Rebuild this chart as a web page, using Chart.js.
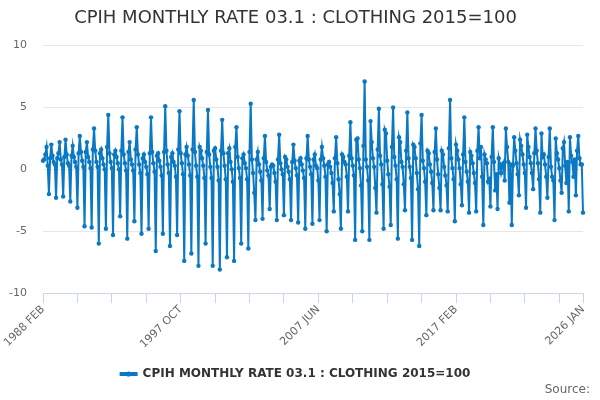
<!DOCTYPE html>
<html>
<head>
<meta charset="utf-8">
<script src="https://cdn.jsdelivr.net/npm/chart.js@4"></script>
<style>
  html, body { margin: 0; padding: 0; background: #fff; }
  #wrap { width: 600px; height: 400px; }
</style>
</head>
<body>
<div id="wrap"><canvas id="rateChart"></canvas></div>
<script>
const monthNames = ['JAN','FEB','MAR','APR','MAY','JUN','JUL','AUG','SEP','OCT','NOV','DEC'];
const firstYear = 1988;
const firstMonth = 1; // FEB

// monthly % change, Feb 1988 .. Jan 2026
const monthlyRate = [
  0.7, 0.8, 1.2, 1.8, 0.3, -2.0, 0.9, 2.0, 1.1, 0.6, 0.4,
  -2.3, 0.9, 1.3, 2.2, 0.8, 0.4, -2.2, 1.0, 2.4, 1.2, 0.5, 0.3,
  -2.6, 1.1, 1.9, 1.0, 0.6, 0.2, -3.1, 1.3, 2.7, 1.4, 0.7, 0.2,
  -4.6, 1.4, 2.2, 1.0, 0.6, 0.1, -4.7, 1.6, 3.3, 1.5, 0.6, 0.2,
  -6.0, 1.3, 1.6, 0.9, 0.4, 0.0, -4.8, 1.8, 4.4, 1.3, 0.6, 0.1,
  -5.3, 1.2, 1.5, 1.0, 0.5, 0.0, -3.8, 1.5, 4.2, 1.2, 0.5, -0.1,
  -5.6, 1.4, 2.2, 0.8, 0.4, -0.1, -4.2, 1.6, 3.4, 1.2, 0.4, -0.3,
  -5.2, 0.9, 1.2, 0.6, 0.2, -0.4, -4.8, 1.3, 4.2, 1.4, 0.5, -0.2,
  -6.6, 1.1, 1.3, 0.7, 0.2, -0.5, -5.2, 1.4, 5.1, 1.5, 0.4, -0.3,
  -6.2, 1.0, 1.3, 0.6, 0.3, -0.6, -5.3, 1.6, 4.7, 1.3, 0.5, -0.4,
  -7.4, 1.2, 1.8, 1.1, 0.4, -0.5, -6.8, 1.6, 5.6, 1.4, 0.3, -0.6,
  -7.8, 1.8, 1.5, 0.9, 0.3, -0.7, -6.0, 1.4, 4.8, 1.2, 0.2, -0.7,
  -7.8, 1.5, 1.7, 0.8, 0.2, -0.9, -8.1, 1.5, 4.0, 1.3, 0.3, -0.8,
  -7.1, 1.3, 1.7, 0.6, 0.0, -1.0, -7.4, 1.8, 3.4, 1.0, 0.1, -0.7,
  -6.0, 0.9, 1.2, 0.5, 0.1, -0.8, -6.4, 1.4, 5.3, 0.8, -0.3, -1.9,
  -4.1, 0.8, 1.4, 0.4, -0.2, -0.9, -4.0, 0.9, 2.7, 0.6, -0.1, -0.5,
  -3.2, 0.2, 0.4, 0.3, -0.3, -1.0, -4.1, 0.8, 2.8, 0.5, 0.0, -0.4,
  -3.7, 1.0, 0.8, 0.2, -0.2, -0.8, -4.1, 0.6, 2.0, 0.7, 0.1, -0.5,
  -4.3, 0.7, 0.9, 0.4, -0.1, -0.7, -4.8, 0.9, 2.7, 0.8, 0.2, -0.4,
  -4.4, 0.8, 1.2, 0.3, 0.1, -0.9, -4.1, 0.8, 1.8, 0.9, 0.3, -0.6,
  -5.0, 0.4, 0.6, 0.2, -0.3, -1.1, -3.4, 0.9, 2.6, 0.5, -0.8, -2.0,
  -4.8, 1.2, 1.0, 0.6, 0.4, -0.6, -3.4, 1.1, 3.8, 0.9, 0.3, -0.5,
  -5.7, 2.4, 2.5, 0.8, 0.1, -1.3, -5.0, 1.9, 7.1, 0.8, 0.2, -0.9,
  -5.7, 3.9, 2.2, 0.9, 0.2, -1.5, -3.5, 1.6, 4.9, 1.1, 0.4, -1.2,
  -4.8, 3.2, 2.9, 0.7, -0.4, -1.4, -4.5, 1.8, 5.0, 1.0, 0.3, -0.8,
  -5.6, 2.6, 2.2, 0.6, 0.2, -1.2, -3.3, 1.5, 4.6, 0.9, 0.2, -0.7,
  -5.7, 2.0, 1.8, 0.9, -0.3, -1.6, -6.2, 2.1, 4.4, 0.7, 0.1, -1.0,
  -3.7, 1.5, 1.3, 0.4, -0.2, -1.1, -3.3, 1.4, 3.3, 0.8, -0.4, -1.5,
  -3.3, 1.5, 1.2, 0.2, -0.5, -1.3, -3.4, 1.7, 5.6, 0.9, 0.1, -0.8,
  -4.2, 2.0, 1.5, 0.8, 0.1, -1.2, -2.9, 1.2, 4.2, 0.6, -0.2, -1.0,
  -3.5, 1.4, 1.1, 0.5, -0.3, -1.1, -3.4, 1.5, 3.4, 0.9, 1.8, -0.6,
  -4.5, 1.2, 0.8, 0.5, -1.0, -0.8, -3.0, 1.0, 3.4, 0.6, -1.7, -0.4,
  -3.2, 0.9, 0.4, -0.3, 0.2, 0.5, -0.9, 3.3, 1.8, 0.6, -2.7, 0.4,
  -4.5, 0.3, 2.6, 1.5, 0.5, -0.4, -2.1, 2.4, 1.9, 1.2, 0.4, -0.3,
  -3.1, 2.8, 1.8, 1.0, 0.5, -0.3, -1.6, 1.3, 3.3, 1.5, 0.5, -0.8,
  -3.5, 2.9, 1.0, 1.2, 0.4, -0.6, -2.3, 1.0, 3.3, 0.2, -0.6, -0.9,
  -4.1, 2.5, 1.3, 0.8, 0.1, -0.9, -1.9, 1.7, 2.2, 0.3, -1.1, 0.6,
  -3.4, 2.6, 1.1, 0.6, -0.6, 0.8, -2.1, 1.5, 2.7, 0.9, 0.4, 0.4,
  -3.5
];

const yTicks = [-10, -5, 0, 5, 10];
const labelEvery = 116;   // months between axis labels
const tickEvery = 29;     // months between tick marks

const titleText = 'CPIH MONTHLY RATE 03.1 : CLOTHING 2015=100';
const lineColor = '#0a78c2';
const fontFamily = '"DejaVu Sans", Verdana, sans-serif';

const labels = monthlyRate.map((v, i) => {
  const m = firstMonth + i;
  return (firstYear + Math.floor(m / 12)) + ' ' + monthNames[m % 12];
});
const lastIdx = labels.length - 1;

// dot on the legend line + source note
const extras = {
  id: 'extras',
  afterDraw(chart) {
    const c = chart.ctx;
    const boxes = chart.legend.legendHitBoxes;
    if (boxes && boxes.length) {
      const b = boxes[0];
      const bw = chart.legend.options.labels.boxWidth;
      c.save();
      c.fillStyle = lineColor;
      c.beginPath();
      c.arc(b.left + bw / 2, b.top + b.height / 2, 2.6, 0, Math.PI * 2);
      c.fill();
      c.restore();
    }
    c.save();
    c.font = '12px ' + fontFamily;
    c.fillStyle = '#666';
    c.textAlign = 'right';
    c.textBaseline = 'middle';
    c.fillText('Source:', 590, 390);
    c.restore();
  }
};

new Chart(document.getElementById('rateChart'), {
  type: 'line',
  data: {
    labels,
    datasets: [{
      label: titleText,
      data: monthlyRate,
      borderColor: lineColor,
      backgroundColor: lineColor,
      borderWidth: 2,
      pointRadius: 2.2,
      pointBackgroundColor: lineColor,
      pointBorderWidth: 0,
      tension: 0
    }]
  },
  options: {
    responsive: true,
    maintainAspectRatio: false,
    animation: false,
    layout: { padding: { left: 8, right: 17, top: 0, bottom: 10 } },
    plugins: {
      title: {
        display: true,
        text: titleText,
        color: '#333',
        font: { family: fontFamily, size: 18, weight: 'normal' },
        padding: { top: 8, bottom: 16 }
      },
      legend: {
        position: 'bottom',
        labels: {
          color: '#333',
          boxWidth: 16,
          boxHeight: 2,
          padding: 10,
          font: { family: fontFamily, size: 12, weight: 'bold' }
        }
      },
      tooltip: { enabled: false }
    },
    scales: {
      x: {
        offset: false,
        afterFit: axis => { axis.height += 7; axis.paddingLeft = 0; },
        border: { color: '#ccd6eb' },
        grid: {
          drawOnChartArea: false,
          tickLength: 10,
          tickColor: ctx => (ctx.index % tickEvery === 0 || ctx.index === lastIdx) ? '#ccd6eb' : 'rgba(0,0,0,0)'
        },
        ticks: {
          autoSkip: false,
          minRotation: 45,
          maxRotation: 45,
          padding: 0,
          color: '#666',
          font: { family: fontFamily, size: 11 },
          callback: (val, i) => (i % labelEvery === 0 || i === lastIdx) ? labels[i] : ''
        }
      },
      y: {
        min: -10,
        max: 10,
        afterBuildTicks: axis => { axis.ticks = yTicks.map(v => ({ value: v })); },
        afterFit: axis => { axis.width = 35; },
        border: { display: false },
        grid: { color: '#e6e6e6', drawTicks: false },
        ticks: {
          padding: 16,
          color: '#666',
          font: { family: fontFamily, size: 11 }
        }
      }
    }
  },
  plugins: [extras]
});
</script>
</body>
</html>
